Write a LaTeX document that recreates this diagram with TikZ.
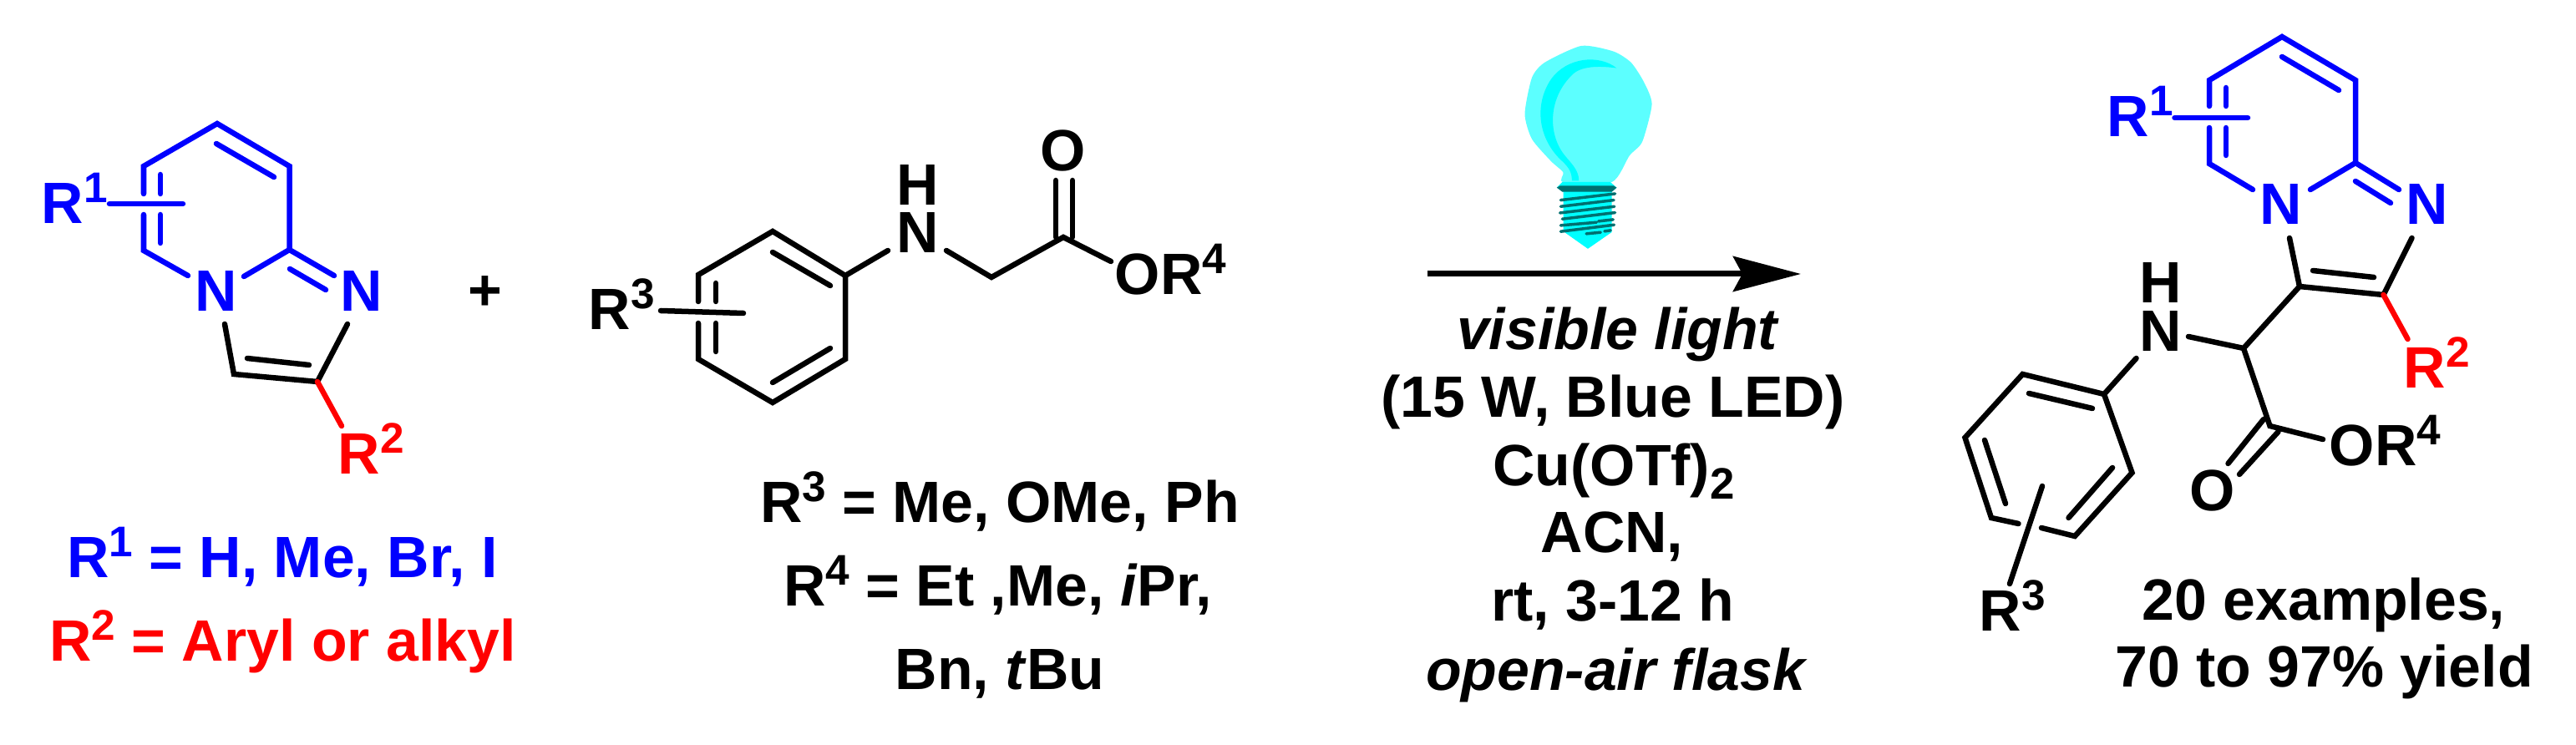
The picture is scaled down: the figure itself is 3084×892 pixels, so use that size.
\documentclass[tikz,border=0pt]{standalone}
\usepackage{fontspec}
\setmainfont{Liberation Sans}
\usetikzlibrary{arrows.meta}
\definecolor{bulbglass}{HTML}{5CFFFF}
\definecolor{bulbbase}{HTML}{00FFFF}
\definecolor{bulbthread}{HTML}{007070}
\newcommand{\supnum}[1]{\raisebox{0.25cm}{\fontsize{14.6}{14.6}\selectfont #1}}
\newcommand{\subnum}[1]{\raisebox{-0.15cm}{\fontsize{15}{15}\selectfont #1}}
\tikzset{
  bond/.style={line width=0.065cm,line cap=round,line join=miter},
  atom/.style={anchor=base,inner sep=0pt,font=\fontsize{19.85}{19.85}\selectfont\bfseries},
  group/.style={atom,anchor=base west},
  txtlabel/.style={atom}
}
\begin{document}
\begin{tikzpicture}[x=0.01cm,y=-0.01cm]
  \useasboundingbox (0,0) rectangle (3084,892);

  % left reactant
  \coordinate (LA) at (260,148); \coordinate (LB) at (346.5,199); \coordinate (LC) at (346.5,299);
  \coordinate (LD) at (172,300); \coordinate (LE) at (172,199);
  \coordinate (LE1) at (172,232); \coordinate (LD1) at (172,257);
  \coordinate (LI1) at (192,209); \coordinate (LI2) at (192,232);
  \coordinate (LI3) at (192,257); \coordinate (LI4) at (192,291);
  \coordinate (LI5) at (259,172); \coordinate (LI6) at (328,212);
  \coordinate (LI7) at (347,322); \coordinate (LI8) at (390,347);
  \coordinate (LNa) at (225,330); \coordinate (LNb) at (292,331); \coordinate (LNc) at (400,330);
  \coordinate (LRa) at (131,244); \coordinate (LRb) at (219,244);
  \coordinate (LNd) at (269,388); \coordinate (LF) at (280,448); \coordinate (LG) at (380,457);
  \coordinate (LNe) at (416,388); \coordinate (LI9) at (296,429); \coordinate (LI10) at (370,437);
  \coordinate (LS) at (409,510);
  \draw [bond,blue] (LD1) -- (LD) -- (LNa);
  \draw [bond,blue] (LE1) -- (LE) -- (LA) -- (LB) -- (LC) -- (LNc);
  \draw [bond,blue] (LC) -- (LNb);
  \draw [bond,blue] (LI1) -- (LI2);
  \draw [bond,blue] (LI3) -- (LI4);
  \draw [bond,blue] (LI5) -- (LI6);
  \draw [bond,blue] (LI7) -- (LI8);
  \draw [bond,blue] (LRa) -- (LRb);
  \draw [bond] (LNd) -- (LF) -- (LG) -- (LNe);
  \draw [bond] (LI9) -- (LI10);
  \draw [bond,red] (LG) -- (LS);
  \node [atom,blue] (LN1) at (259,373) {N};
  \node [atom,blue] (LN2) at (433,373) {N};
  \node [group,blue] (LR1) at (49,268) {R\supnum{1}};
  \node [group,red] (LR2) at (404,568) {R\supnum{2}};
  \node [atom] (plus) at (581,372) {+};
  \node [txtlabel,blue] (LT1) at (338,692) {R\supnum{1} = H, Me, Br, I};
  \node [txtlabel,red] (LT2) at (338.5,792) {R\supnum{2} = Aryl or alkyl};

  % middle reactant
  \coordinate (MA) at (925,277); \coordinate (MB) at (1012,330); \coordinate (MC) at (1012,430);
  \coordinate (MD) at (925,482); \coordinate (ME) at (836,430); \coordinate (MF) at (836,329);
  \coordinate (MF1) at (836,361); \coordinate (ME1) at (836,387);
  \coordinate (MI1) at (925,302); \coordinate (MI2) at (994,342);
  \coordinate (MI3) at (994,417); \coordinate (MI4) at (925,458);
  \coordinate (MI5) at (857,339); \coordinate (MI6) at (857,361);
  \coordinate (MI7) at (857,387); \coordinate (MI8) at (857,421);
  \coordinate (MRa) at (791,372); \coordinate (MRb) at (890,375);
  \coordinate (MNa) at (1063,300); \coordinate (MNb) at (1133,300);
  \coordinate (MG) at (1187,332); \coordinate (MH) at (1273,284);
  \coordinate (MOa) at (1264,284); \coordinate (MOb) at (1264,216);
  \coordinate (MOc) at (1284,284); \coordinate (MOd) at (1284,216);
  \coordinate (MOe) at (1330,313);
  \draw [bond] (MF1) -- (MF) -- (MA) -- (MB) -- (MC) -- (MD) -- (ME) -- (ME1);
  \draw [bond] (MI1) -- (MI2);
  \draw [bond] (MI3) -- (MI4);
  \draw [bond] (MI5) -- (MI6);
  \draw [bond] (MI7) -- (MI8);
  \draw [bond] (MRa) -- (MRb);
  \draw [bond] (MB) -- (MNa);
  \draw [bond] (MNb) -- (MG) -- (MH) -- (MOe);
  \draw [bond] (MOa) -- (MOb);
  \draw [bond] (MOc) -- (MOd);
  \node [group] (MR3) at (704,395) {R\supnum{3}};
  \node [atom] (MN) at (1099,303) {N};
  \node [atom] (MNH) at (1099,246) {H};
  \node [atom] (MO) at (1273,205) {O};
  \node [group] (MOR) at (1334,353) {OR\supnum{4}};
  \node [txtlabel] (MT1) at (1197,626) {R\supnum{3} = Me, OMe, Ph};
  \node [txtlabel] (MT2) at (1194.5,726) {R\supnum{4} = Et ,Me, \textit{i}Pr,};
  \node [txtlabel] (MT3) at (1197,826) {Bn, \textit{t}Bu};

  % lamp
  \begin{scope}[shift={(1650,0)},x=0.003827cm,y=-0.003333cm]
    \fill [bulbglass] plot [smooth cycle,tension=0.4] coordinates {(635,165) (735,185) (790,225)
      (830,295) (855,375) (825,510) (785,560) (730,655) (578,655) (578,620) (540,580)
      (480,500) (458,410) (480,280) (520,225)};
    \fill [bulbbase] (745,245) .. controls (690,195) and (590,205) .. (540,285)
      .. controls (490,370) and (495,490) .. (570,575)
      .. controls (600,605) and (605,625) .. (605,650) -- (627,650)
      .. controls (627,610) and (600,585) .. (580,555)
      .. controls (530,480) and (530,350) .. (610,265)
      .. controls (640,235) and (700,238) .. (745,245) -- cycle;
    \fill [bulbbase] (558,675) -- (575,655) -- (725,655) -- (745,675) -- (730,690)
      -- (730,835) -- (655,895) -- (585,838) -- (578,830) -- (578,690) -- cycle;
    \fill [bulbthread] (558,675) -- (568,668) -- (735,668) -- (745,675) -- (730,690) -- (575,690) -- cycle;
    \draw [bulbthread,line width=0.035cm,line cap=round]
      (570,720) -- (740,697) (570,743) -- (736,720) (568,766) -- (738,743)
      (575,788) -- (740,765) (570,811) -- (682,800) (688,796) -- (734,790)
      (570,833) -- (737,809) (650,841) -- (695,836) (707,832) -- (726,829);
  \end{scope}

  % arrow and conditions
  \coordinate (AL) at (1708.6,328);
  \coordinate (AR) at (2156,328);
  \draw [line width=0.07cm,-{Stealth[length=0.81cm,width=0.42cm,inset=0.11cm]}] (AL) -- (AR);
  \node [txtlabel] (C1) at (1936,419) {\itshape visible light};
  \node [txtlabel] (C2) at (1931,500) {(15 W, Blue LED)};
  \node [txtlabel] (C3) at (1932,582) {Cu(OTf)\subnum{2}};
  \node [txtlabel] (C4) at (1930,662) {ACN,};
  \node [txtlabel] (C5) at (1931,744) {rt, 3-12 h};
  \node [txtlabel] (C6) at (1934,827) {\itshape open-air flask};

  % product
  \coordinate (PA) at (2732,44); \coordinate (PB) at (2820,96); \coordinate (PC) at (2820,195);
  \coordinate (PD) at (2645,196); \coordinate (PE) at (2645,96);
  \coordinate (PE1) at (2645,127); \coordinate (PD1) at (2645,153);
  \coordinate (PI1) at (2665,105); \coordinate (PI2) at (2665,127);
  \coordinate (PI3) at (2665,153); \coordinate (PI4) at (2665,186);
  \coordinate (PI5) at (2732,68); \coordinate (PI6) at (2800,108);
  \coordinate (PI7) at (2820,217); \coordinate (PI8) at (2862,243);
  \coordinate (PNa) at (2697,227); \coordinate (PNb) at (2766,227); \coordinate (PNc) at (2872,227);
  \coordinate (PRa) at (2603.5,141); \coordinate (PRb) at (2691,141);
  \coordinate (PNd) at (2741,285); \coordinate (PF) at (2753,343); \coordinate (PG) at (2853.5,353);
  \coordinate (PNe) at (2887.5,285); \coordinate (PI9) at (2769,324); \coordinate (PI10) at (2842,332);
  \coordinate (PS) at (2882.5,406);
  \coordinate (PH) at (2686,417); \coordinate (PNf) at (2620,403); \coordinate (PNg) at (2557.5,429);
  \coordinate (PJ) at (2717.5,510); \coordinate (POa) at (2710,502); \coordinate (POb) at (2667.5,555);
  \coordinate (POc) at (2727.5,517); \coordinate (POd) at (2681,568); \coordinate (POe) at (2781,526);
  \coordinate (QA) at (2519,472); \coordinate (QB) at (2421.5,448); \coordinate (QC) at (2352.5,524);
  \coordinate (QD) at (2384,620); \coordinate (QE) at (2484,642); \coordinate (QF) at (2552.5,566);
  \coordinate (QD1) at (2416.5,627); \coordinate (QE1) at (2444,632);
  \coordinate (QI1) at (2429,471); \coordinate (QI2) at (2505,489);
  \coordinate (QI3) at (2376,527); \coordinate (QI4) at (2401,603);
  \coordinate (QI5) at (2529,560); \coordinate (QI6) at (2476.5,620);
  \coordinate (QRa) at (2445,582); \coordinate (QRb) at (2406,699);
  \draw [bond,blue] (PD1) -- (PD) -- (PNa);
  \draw [bond,blue] (PE1) -- (PE) -- (PA) -- (PB) -- (PC) -- (PNc);
  \draw [bond,blue] (PC) -- (PNb);
  \draw [bond,blue] (PI1) -- (PI2);
  \draw [bond,blue] (PI3) -- (PI4);
  \draw [bond,blue] (PI5) -- (PI6);
  \draw [bond,blue] (PI7) -- (PI8);
  \draw [bond,blue] (PRa) -- (PRb);
  \draw [bond] (PNd) -- (PF) -- (PG) -- (PNe);
  \draw [bond] (PI9) -- (PI10);
  \draw [bond,red] (PG) -- (PS);
  \draw [bond] (PF) -- (PH) -- (PNf);
  \draw [bond] (PH) -- (PJ) -- (POe);
  \draw [bond] (POa) -- (POb);
  \draw [bond] (POc) -- (POd);
  \draw [bond] (PNg) -- (QA) -- (QB) -- (QC) -- (QD) -- (QD1);
  \draw [bond] (QE1) -- (QE) -- (QF) -- (QA);
  \draw [bond] (QI1) -- (QI2);
  \draw [bond] (QI3) -- (QI4);
  \draw [bond] (QI5) -- (QI6);
  \draw [bond] (QRa) -- (QRb);
  \node [atom,blue] (PN1) at (2731,269) {N};
  \node [atom,blue] (PN2) at (2906,269) {N};
  \node [group,blue] (PR1) at (2522,164) {R\supnum{1}};
  \node [group,red] (PR2) at (2877,465) {R\supnum{2}};
  \node [atom] (PN) at (2587,421) {N};
  \node [atom] (PNH) at (2587,363) {H};
  \node [atom] (PO) at (2649,612) {O};
  \node [group] (POR) at (2788,558) {OR\supnum{4}};
  \node [group] (PR3) at (2369,756) {R\supnum{3}};
  \node [txtlabel] (PT1) at (2782,743) {20 examples,};
  \node [txtlabel] (PT2) at (2782.5,823) {70 to 97\% yield};
\end{tikzpicture}
\end{document}
